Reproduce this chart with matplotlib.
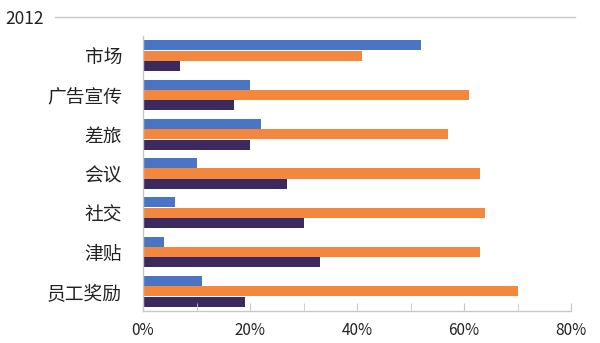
import numpy as np
import matplotlib
matplotlib.use("Agg")
import matplotlib.pyplot as plt
from matplotlib.ticker import MultipleLocator, FuncFormatter

# data (percent)
categories = ["市场", "广告宣传", "差旅", "会议", "社交", "津贴", "员工奖励"]
series_blue = [52, 20, 22, 10, 6, 4, 11]
series_orange = [41, 61, 57, 63, 64, 63, 70]
series_purple = [7, 17, 20, 27, 30, 33, 19]
title = "2012"

plt.rcParams["font.family"] = ["Noto Sans CJK SC", "DejaVu Sans"]

fig = plt.figure(figsize=(6, 3.43), dpi=100)
ax = fig.add_axes([143 / 600, 1 - 311 / 343, (571 - 143) / 600, (311 - 36) / 343])

y = np.arange(len(categories))
h = 0.265
ax.barh(y - h, series_blue, height=h - 0.01, color="#4a75c5")
ax.barh(y, series_orange, height=h - 0.01, color="#f4873e")
ax.barh(y + h, series_purple, height=h - 0.01, color="#3c2a5f")

ax.set_ylim(len(categories) - 0.5, -0.5)
ax.set_xlim(0, 80)
ax.set_yticks(y)
ax.set_yticklabels(categories, fontsize=13.5, color="#222222")
ax.tick_params(axis="y", length=0, pad=15)

ax.xaxis.set_major_locator(MultipleLocator(20))
ax.xaxis.set_minor_locator(MultipleLocator(10))
ax.xaxis.set_major_formatter(FuncFormatter(lambda v, _: f"{v:.0f}%"))
ax.tick_params(axis="x", which="both", direction="in", length=6, color="#c8c8c8",
               labelsize=11, pad=8, labelcolor="#222222")

for side in ["top", "right"]:
    ax.spines[side].set_visible(False)
for side in ["left", "bottom"]:
    ax.spines[side].set_color("#c8c8c8")
    ax.spines[side].set_linewidth(1.0)

fig.text(5 / 600, 1 - 19 / 343, title, fontsize=12.5, va="center", ha="left",
         color="#222222")
fig.add_artist(plt.Line2D([55 / 600, 575 / 600], [1 - 17 / 343, 1 - 17 / 343],
                          color="#c8c8c8", linewidth=1.0))

fig.savefig("out.png", dpi=100)
